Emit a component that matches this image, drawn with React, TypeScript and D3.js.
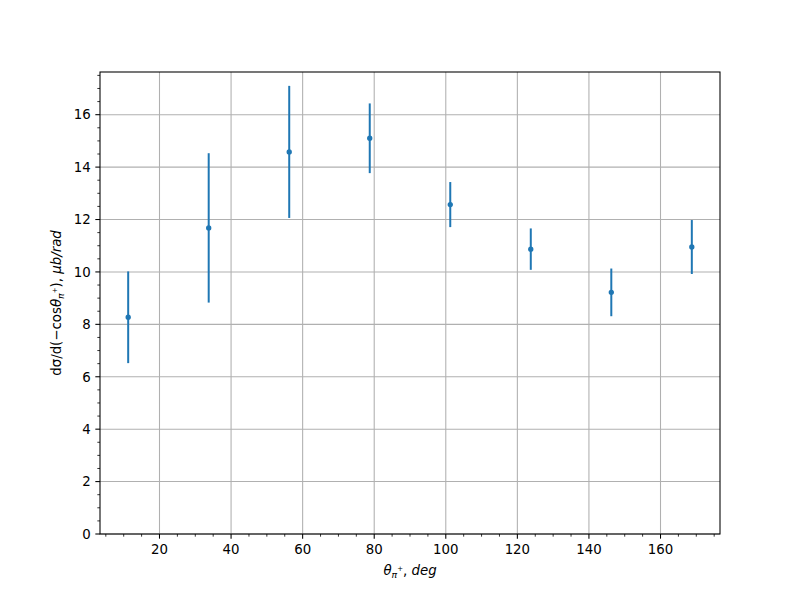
import React from "react";
import * as d3 from "d3";

const angles = [11.25, 33.75, 56.25, 78.75, 101.25, 123.75, 146.25, 168.75];
const values = [8.27, 11.68, 14.58, 15.1, 12.57, 10.87, 9.22, 10.95];
const errors = [1.75, 2.85, 2.52, 1.33, 0.86, 0.79, 0.91, 1.03];
const xTicks = [20, 40, 60, 80, 100, 120, 140, 160];
const yTicks = [0, 2, 4, 6, 8, 10, 12, 14, 16];

const W = 800, H = 600;
const L = 100, R = 720, T = 72, B = 534;
const C0 = "#1f77b4";
const FONT = "DejaVu Sans, sans-serif";

export default function App() {
  const xmin = d3.min(angles)!, xmax = d3.max(angles)!;
  const xm = (xmax - xmin) * 0.05;
  const x = d3.scaleLinear().domain([xmin - xm, xmax + xm]).range([L, R]);
  const lo = d3.min(values.map((v, i) => v - errors[i]))!;
  const hi = d3.max(values.map((v, i) => v + errors[i]))!;
  const ytop = hi + (hi - lo) * 0.05;
  const y = d3.scaleLinear().domain([0, ytop]).range([B, T]);

  const xMinor = d3.range(5, 180, 5).filter(v => x(v) >= L - 0.01 && x(v) <= R + 0.01 && v % 20 !== 0);
  const yMinor = d3.range(0, 18, 0.5).filter(v => y(v) >= T - 0.01 && v % 2 !== 0);

  return (
    <svg width={W} height={H} style={{ display: "block", position: "absolute", left: 0, top: 0 }} fontFamily={FONT}>
      <rect x={0} y={0} width={W} height={H} fill="#fff" />
      {/* grid */}
      <g stroke="#b0b0b0" strokeWidth={1.07}>
        {xTicks.map(t => <line key={"gx" + t} x1={x(t)} x2={x(t)} y1={T} y2={B} />)}
        {yTicks.map(t => <line key={"gy" + t} x1={L} x2={R} y1={y(t)} y2={y(t)} />)}
      </g>
      {/* error bars */}
      <g stroke={C0} strokeWidth={2}>
        {angles.map((a, i) => (
          <line key={"e" + i} x1={x(a)} x2={x(a)} y1={y(values[i] - errors[i])} y2={y(values[i] + errors[i])} />
        ))}
      </g>
      <g fill={C0} stroke={C0} strokeWidth={1.33}>
        {angles.map((a, i) => <circle key={"p" + i} cx={x(a)} cy={y(values[i])} r={2} />)}
      </g>
      {/* spines */}
      <rect x={L} y={T} width={R - L} height={B - T} fill="none" stroke="#000" strokeWidth={1.07} />
      {/* ticks */}
      <g stroke="#000">
        {xTicks.map(t => <line key={"tx" + t} x1={x(t)} x2={x(t)} y1={B} y2={B + 4.67} strokeWidth={1.07} />)}
        {xMinor.map(t => <line key={"mx" + t} x1={x(t)} x2={x(t)} y1={B} y2={B + 2.67} strokeWidth={0.8} />)}
        {yTicks.map(t => <line key={"ty" + t} x1={L - 4.67} x2={L} y1={y(t)} y2={y(t)} strokeWidth={1.07} />)}
        {yMinor.map(t => <line key={"my" + t} x1={L - 2.67} x2={L} y1={y(t)} y2={y(t)} strokeWidth={0.8} />)}
      </g>
      <g fontSize={13.33} fill="#000">
        {xTicks.map(t => (
          <text key={"lx" + t} x={x(t)} y={B + 9.33 + 10.5} textAnchor="middle">{t}</text>
        ))}
        {yTicks.map(t => (
          <text key={"ly" + t} x={L - 9.33} y={y(t) + 4.8} textAnchor="end">{t}</text>
        ))}
      </g>
      {/* x label */}
      <text x={(L + R) / 2} y={575} textAnchor="middle" fontSize={13.33} fill="#000">
        <tspan fontStyle="italic">θ</tspan>
        <tspan fontStyle="italic" fontSize={9.3} dy={2.5}>π</tspan>
        <tspan fontSize={7} dy={-6.5}>+</tspan>
        <tspan dy={4}>, </tspan>
        <tspan fontStyle="italic">deg</tspan>
      </text>
      {/* y label */}
      <text transform={`translate(61,${(T + B) / 2}) rotate(-90)`} textAnchor="middle" fontSize={13.33} fill="#000">
        <tspan>dσ/d(−cos</tspan>
        <tspan fontStyle="italic">θ</tspan>
        <tspan fontStyle="italic" fontSize={9.3} dy={2.5}>π</tspan>
        <tspan fontSize={7} dy={-6.5}>+</tspan>
        <tspan dy={4}>), </tspan>
        <tspan fontStyle="italic">μb/rad</tspan>
      </text>
    </svg>
  );
}
